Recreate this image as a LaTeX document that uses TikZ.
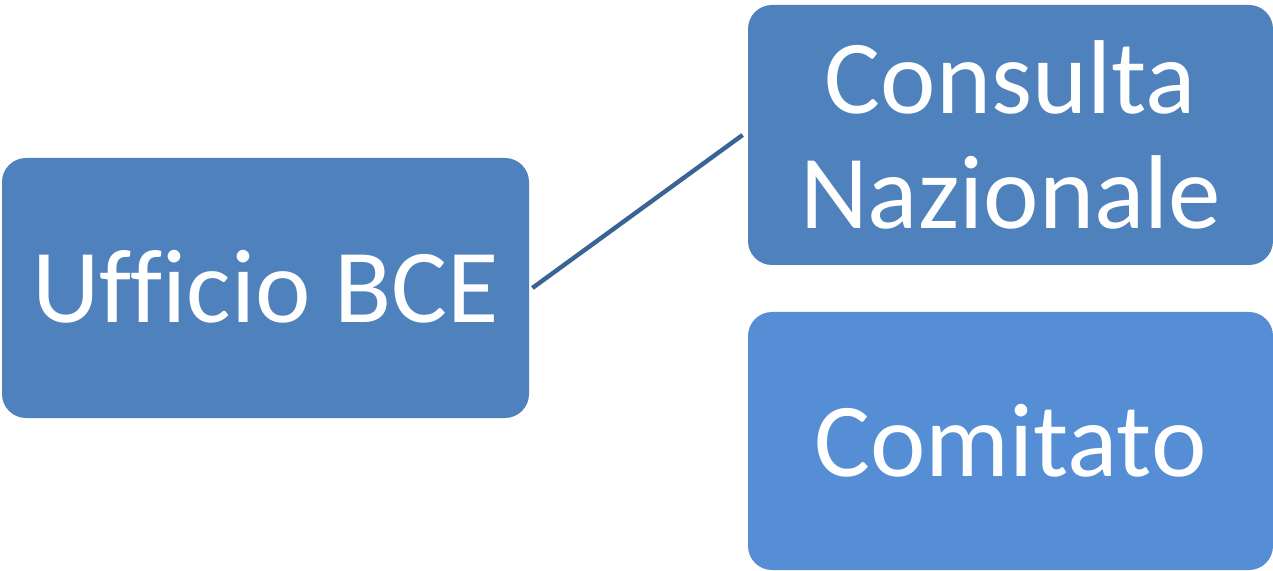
\documentclass[tikz,border=0pt]{standalone}
\usepackage{fontspec}
\setmainfont{Carlito}[Ligatures=CommonOff]
\usetikzlibrary{positioning}
\definecolor{boxblue}{HTML}{4F81BD}
\definecolor{boxlight}{HTML}{558ED5}
\definecolor{linkblue}{HTML}{3B6496}

\begin{document}
\begin{tikzpicture}[
    x=0.5pt,
    y=-0.5pt,
    font=\fontsize{52.5}{57.5}\selectfont,
    orgbox/.style={
        fill=boxblue,
        rounded corners=12pt,
        text=white,
        align=center,
        inner sep=0pt,
        minimum height=130pt
    },
    link/.style={
        draw=linkblue,
        line width=2.2pt
    }
]

% area
\useasboundingbox (0,0) rectangle (1273,571);

% -----------------------------------------------------
% Nodes
% -----------------------------------------------------

\node[orgbox, minimum width=263.5pt] (ufficio) at (265.5,288)
{\raisebox{1.5pt}{Ufficio BCE}};

\node[orgbox, minimum width=262.5pt] (consulta) at (1010.5,135)
{Consulta\\Nazionale};

\node[orgbox, fill=boxlight, minimum width=262.5pt, minimum height=129pt] (comitato) at (1010.5,441)
{\raisebox{1pt}{Comitato}};

% -----------------------------------------------------
% Link
% -----------------------------------------------------

\draw[link] ([xshift=1.5pt]ufficio.east) -- ([xshift=-2.5pt]consulta.west);

\end{tikzpicture}
\end{document}
